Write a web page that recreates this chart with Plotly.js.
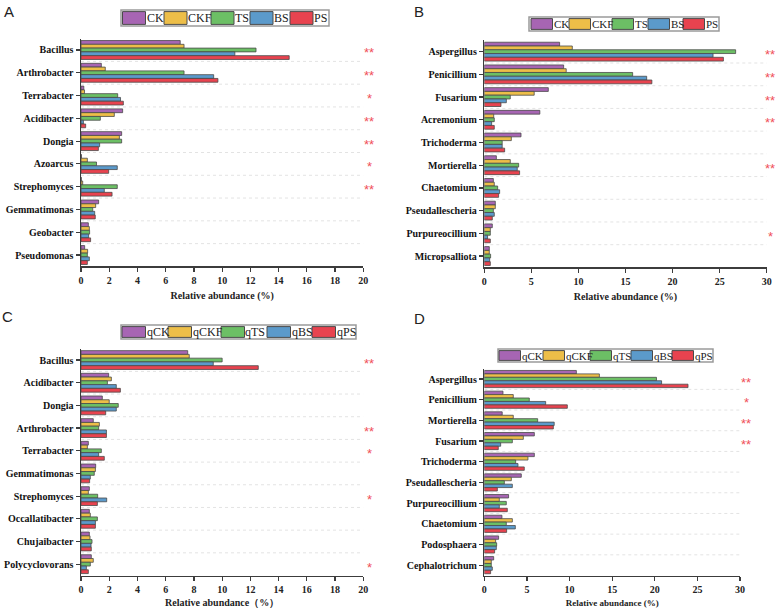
<!DOCTYPE html>
<html>
<head>
<meta charset="utf-8">
<script src="https://cdn.plot.ly/plotly-3.0.1.min.js"></script>
<style>html,body{margin:0;padding:0;background:#fff;}</style>
</head>
<body>
<div id="chart" style="width:778px;height:608px;"></div>
<script>
// ---- Panel A: bacterial genera, metagenome ----
const seriesA = ['CK', 'CKF', 'TS', 'BS', 'PS'];
const genusA = ['Bacillus', 'Arthrobacter', 'Terrabacter', 'Acidibacter', 'Dongia',
  'Azoarcus', 'Strephomyces', 'Gemmatimonas', 'Geobacter', 'Pseudomonas'];
const A_CK  = [7.03, 1.44, 0.20, 2.95, 2.88, 0.03, 0.02, 1.25, 0.52, 0.26];
const A_CKF = [7.30, 1.72, 0.25, 2.36, 2.72, 0.45, 0.12, 1.04, 0.59, 0.47];
const A_TS  = [12.4, 7.30, 2.60, 1.37, 2.88, 1.10, 2.57, 0.83, 0.61, 0.45];
const A_BS  = [10.9, 9.40, 2.80, 0.17, 1.32, 2.57, 1.65, 0.97, 0.54, 0.59];
const A_PS  = [14.75, 9.70, 3.00, 0.33, 1.23, 1.96, 2.20, 1.01, 0.68, 0.45];
const sigA  = ['**', '**', '*', '**', '**', '*', '**', '', '', ''];

// ---- Panel B: fungal genera, metagenome ----
const seriesB = ['CK', 'CKF', 'TS', 'BS', 'PS'];
const genusB = ['Aspergillus', 'Penicillium', 'Fusarium', 'Acremonium', 'Trichoderma',
  'Mortierella', 'Chaetomium', 'Pseudallescheria', 'Purpureocillium', 'Micropsalliota'];
const B_CK  = [8.00, 8.43, 6.80, 5.90, 3.90, 1.28, 0.96, 1.17, 0.85, 0.53];
const B_CKF = [9.35, 8.70, 5.30, 1.00, 2.87, 2.76, 1.06, 1.17, 0.64, 0.53];
const B_TS  = [26.7, 15.76, 2.76, 1.06, 1.90, 3.65, 1.42, 0.96, 0.64, 0.67];
const B_BS  = [24.3, 17.25, 2.34, 0.78, 1.90, 3.50, 1.63, 1.06, 0.35, 0.57];
const B_PS  = [25.4, 17.8, 1.77, 1.06, 2.16, 3.75, 1.52, 0.85, 0.64, 0.64];
const sigB  = ['**', '**', '**', '**', '', '**', '', '', '*', ''];

// ---- Panel C: bacterial genera, quantitative ----
const seriesC = ['qCK', 'qCKF', 'qTS', 'qBS', 'qPS'];
const genusC = ['Bacillus', 'Acidibacter', 'Dongia', 'Arthrobacter', 'Terrabacter',
  'Gemmatimonas', 'Strephomyces', 'Occallatibacter', 'Chujaibacter', 'Polycyclovorans'];
const C_qCK  = [7.56, 1.96, 1.51, 0.87, 0.52, 1.04, 0.59, 0.59, 0.59, 0.73];
const C_qCKF = [7.67, 2.15, 2.00, 1.30, 0.45, 1.02, 0.52, 0.66, 0.64, 0.87];
const C_qTS  = [10.0, 1.87, 2.64, 1.25, 1.44, 0.94, 1.18, 1.16, 0.78, 0.66];
const C_qBS  = [9.37, 2.50, 2.50, 1.80, 1.25, 0.66, 1.82, 1.02, 0.71, 0.38];
const C_qPS  = [12.56, 2.79, 1.75, 1.80, 1.65, 0.61, 1.16, 1.02, 0.73, 0.52];
const sigC   = ['**', '', '', '**', '*', '', '*', '', '', '*'];

// ---- Panel D: fungal genera, quantitative ----
const seriesD = ['qCK', 'qCKF', 'qTS', 'qBS', 'qPS'];
const genusD = ['Aspergillus', 'Penicillium', 'Mortierella', 'Fusarium', 'Trichoderma',
  'Pseudallescheria', 'Purpureocillium', 'Chaetomium', 'Podosphaera', 'Cephalotrichum'];
const D_qCK  = [10.8, 2.19, 2.10, 5.87, 5.87, 4.34, 2.85, 2.07, 1.68, 1.10];
const D_qCKF = [13.5, 3.40, 3.40, 4.58, 5.12, 3.17, 1.76, 3.29, 1.33, 0.82];
const D_qTS  = [20.2, 5.28, 6.26, 3.29, 3.68, 2.35, 2.58, 2.58, 1.45, 0.82];
const D_qBS  = [20.8, 7.20, 8.20, 1.92, 3.95, 3.29, 1.76, 3.64, 1.41, 0.94];
const D_qPS  = [23.9, 9.74, 8.10, 1.64, 4.69, 1.53, 2.70, 2.62, 1.21, 0.74];
const sigD   = ['**', '*', '**', '**', '', '', '', '', '', ''];

const seriesColors = ['#A765B3', '#EDBE48', '#6CBF65', '#5B9ACB', '#E8434F'];

// ---- page geometry (pixels) ----
const W = 778, H = 608;
const px = v => v / W;
const py = v => 1 - v / H;

const panels = [
  { letter: 'A', lx: 2, ly: 1, genus: genusA, series: seriesA,
    values: [A_CK, A_CKF, A_TS, A_BS, A_PS], sig: sigA,
    xpx: [81, 363.3], ypx: [38.6, 266.4], xmax: 20, dtick: 2, sigX: 369,
    title: 'Relative abundance (%)', titleSize: 10,
    legend: { box: [121, 329, 10, 26], starts: [122.5, 164, 211, 250, 290], sw: 23, font: 12 } },
  { letter: 'B', lx: 412, ly: 1, genus: genusB, series: seriesB,
    values: [B_CK, B_CKF, B_TS, B_BS, B_PS], sig: sigB,
    xpx: [484.3, 766.7], ypx: [40.3, 267.4], xmax: 30, dtick: 5, sigX: 770,
    title: 'Relative abundance (%)', titleSize: 10,
    legend: { box: [529, 719, 17, 31], starts: [531, 569, 612, 648, 683], sw: 21.5, font: 11 } },
  { letter: 'C', lx: 0, ly: 306, genus: genusC, series: seriesC,
    values: [C_qCK, C_qCKF, C_qTS, C_qBS, C_qPS], sig: sigC,
    xpx: [81, 363.3], ypx: [348.7, 575.5], xmax: 20, dtick: 2, sigX: 369,
    title: 'Relative abundance\uff08%\uff09', titleSize: 10,
    legend: { box: [121, 356, 325, 339], starts: [122, 168, 221, 267, 312], sw: 23.5, font: 12 } },
  { letter: 'D', lx: 412, ly: 308, genus: genusD, series: seriesD,
    values: [D_qCK, D_qCKF, D_qTS, D_qBS, D_qPS], sig: sigD,
    xpx: [484.3, 740], ypx: [368.7, 575.5], xmax: 30, dtick: 5, sigX: 746,
    title: 'Relative abundance (%)', titleSize: 9,
    legend: { box: [498, 713, 349, 362], starts: [499, 543, 590, 631, 672], sw: 21.5, font: 11 } }
];

const serif = 'Liberation Serif, Times New Roman, serif';
const axisColor = '#3c3c3c';
const traces = [];
const shapes = [];
const annotations = [];
const layout = {
  width: W, height: H,
  margin: { l: 0, r: 0, t: 0, b: 0 },
  paper_bgcolor: '#ffffff', plot_bgcolor: 'rgba(0,0,0,0)',
  barmode: 'group', bargap: 0.17, bargroupgap: 0,
  showlegend: false,
  font: { family: serif, color: '#111' }
};

panels.forEach((p, k) => {
  const idx = k === 0 ? '' : String(k + 1);
  const xa = 'x' + idx, ya = 'y' + idx;
  const n = p.genus.length;

  p.series.forEach((name, s) => {
    traces.push({
      type: 'bar', orientation: 'h', name: name,
      x: p.values[s], y: p.genus,
      xaxis: xa, yaxis: ya,
      marker: { color: seriesColors[s], line: { color: '#4a4a4a', width: 0.8 } },
      hoverinfo: 'name+x+y'
    });
  });

  layout['xaxis' + idx] = {
    domain: [px(p.xpx[0]), px(p.xpx[1])], anchor: ya,
    range: [0, p.xmax], tick0: 0, dtick: p.dtick,
    showgrid: false, zeroline: false,
    showline: true, linecolor: axisColor, linewidth: 1.5,
    ticks: 'outside', ticklen: 4, tickwidth: 1.2, tickcolor: axisColor,
    tickfont: { family: serif, size: 10, weight: 'bold', color: '#222' },
    title: { text: p.title, standoff: 7,
      font: { family: serif, size: p.titleSize, weight: 'bold', color: '#222' } },
    fixedrange: true
  };
  layout['yaxis' + idx] = {
    domain: [py(p.ypx[1]), py(p.ypx[0])], anchor: xa,
    type: 'category', categoryorder: 'array', categoryarray: p.genus,
    range: [n - 0.5, -0.5],
    showgrid: false, zeroline: false,
    showline: true, linecolor: axisColor, linewidth: 1.5,
    ticks: 'outside', ticklen: 4, tickwidth: 1.2, tickcolor: axisColor,
    tickfont: { family: serif, size: 10, weight: 'bold', color: '#111' },
    fixedrange: true
  };

  // faint dotted separators between genus groups
  for (let i = 0; i < n - 1; i++) {
    shapes.push({ type: 'line', xref: xa, yref: ya, x0: 0, x1: p.xmax, y0: i + 0.5, y1: i + 0.5,
      line: { color: '#e3e3e3', width: 1, dash: 'dot' }, layer: 'below' });
  }

  // significance marks
  p.sig.forEach((t, i) => {
    if (!t) return;
    annotations.push({ xref: 'paper', yref: ya, x: px(p.sigX), y: p.genus[i],
      text: t, showarrow: false, xanchor: 'center', yanchor: 'middle', yshift: -3,
      font: { family: 'Liberation Sans, Arial, sans-serif', size: 13, color: '#F0505A' } });
  });

  // panel letter
  annotations.push({ xref: 'paper', yref: 'paper', x: px(p.lx), y: py(p.ly),
    text: p.letter, showarrow: false, xanchor: 'left', yanchor: 'top',
    font: { family: 'Liberation Sans, Arial, sans-serif', size: 15, color: '#222' } });

  // legend box with swatches and labels
  const L = p.legend;
  shapes.push({ type: 'rect', xref: 'paper', yref: 'paper',
    x0: px(L.box[0]), x1: px(L.box[1]), y0: py(L.box[3]), y1: py(L.box[2]),
    line: { color: '#9a9a9a', width: 1.5 }, fillcolor: '#ffffff' });
  const inset = 1.6;
  p.series.forEach((name, s) => {
    const x0 = L.starts[s];
    shapes.push({ type: 'rect', xref: 'paper', yref: 'paper',
      x0: px(x0), x1: px(x0 + L.sw),
      y0: py(L.box[3] - inset), y1: py(L.box[2] + inset),
      line: { color: '#4a4a4a', width: 1 }, fillcolor: seriesColors[s] });
    annotations.push({ xref: 'paper', yref: 'paper',
      x: px(x0 + L.sw + 1), y: py((L.box[2] + L.box[3]) / 2),
      text: name, showarrow: false, xanchor: 'left', yanchor: 'middle',
      borderpad: 0, borderwidth: 0,
      font: { family: serif, size: L.font, color: '#222' } });
  });
});

layout.shapes = shapes;
layout.annotations = annotations;

Plotly.newPlot('chart', traces, layout, { displayModeBar: false, staticPlot: true });
</script>
</body>
</html>
